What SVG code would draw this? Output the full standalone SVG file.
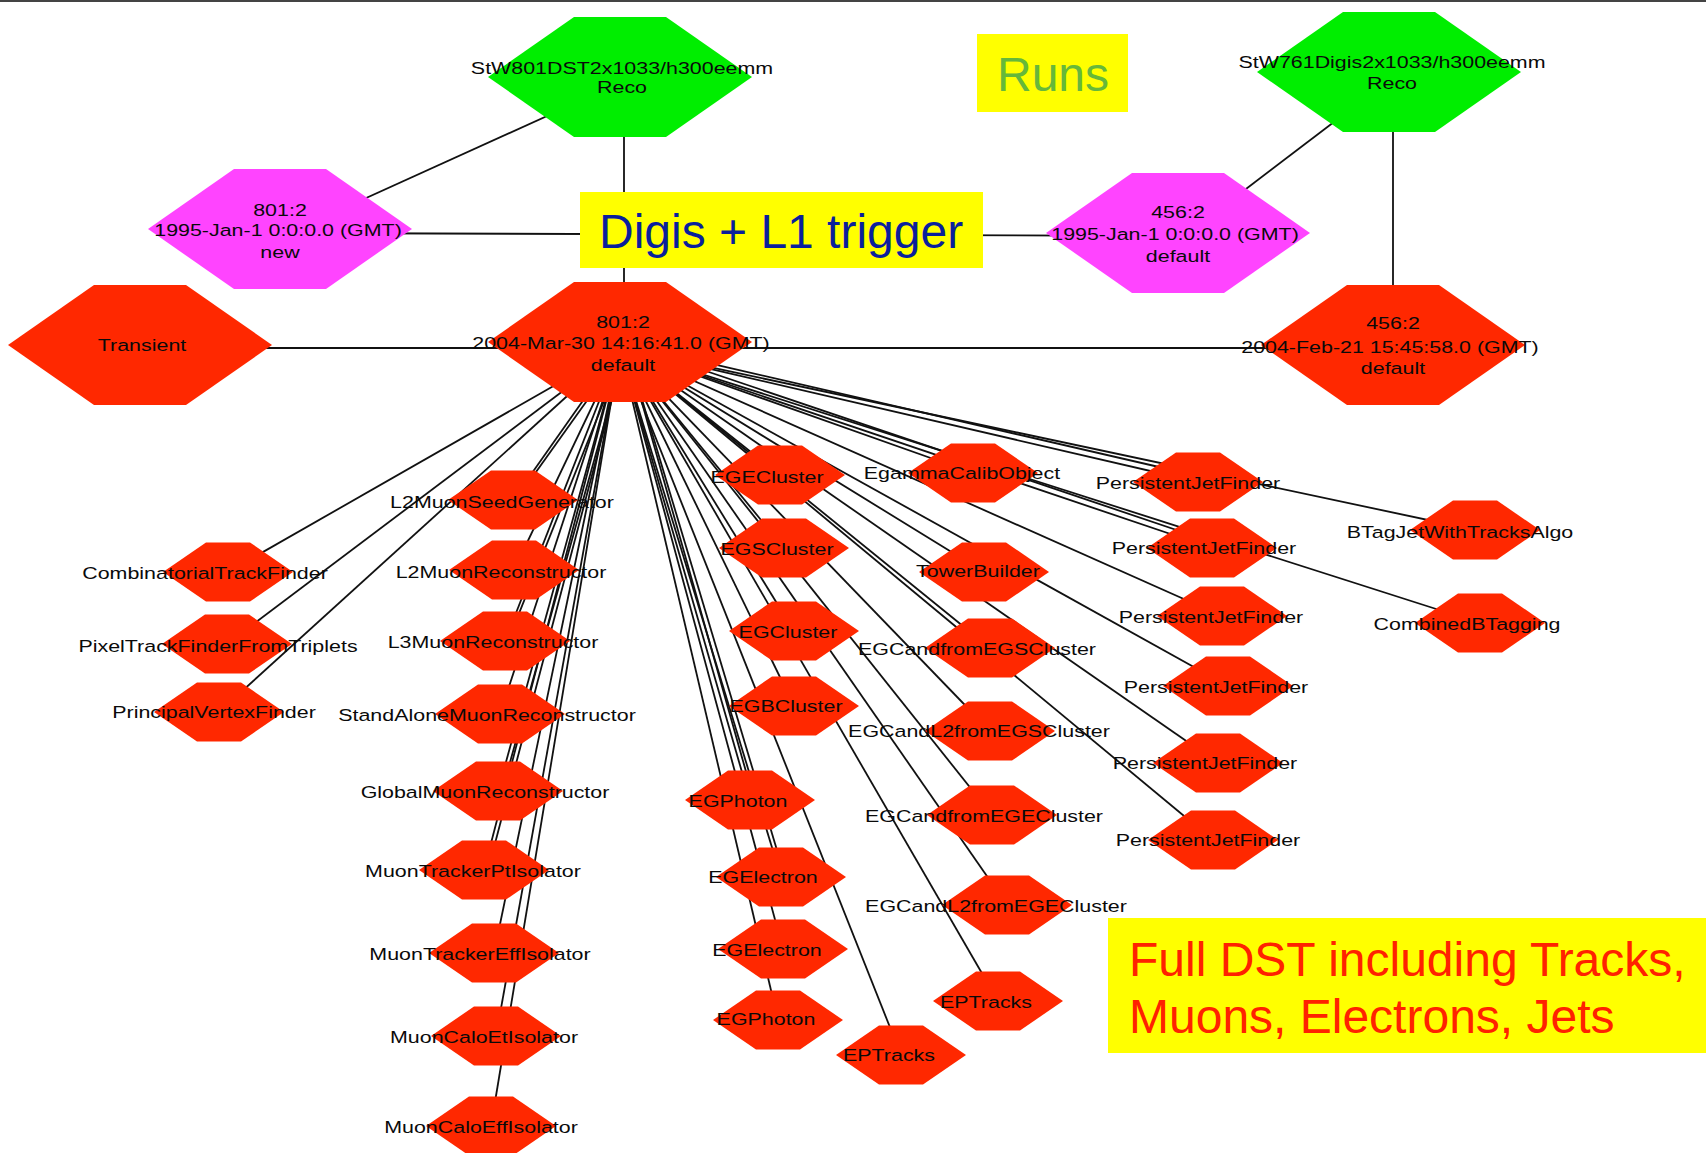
<svg xmlns="http://www.w3.org/2000/svg" xmlns:xlink="http://www.w3.org/1999/xlink" width="1706" height="1153" viewBox="0 0 1706 1153">
  <style>
    .red { fill: #ff2800; }
    .green { fill: #00ee00; }
    .magenta { fill: #ff44ff; }
    .note { fill: #ffff00; }
    .edge { stroke: #111; stroke-width: 1.8; fill: none; }
    .lbl { font-family: "Liberation Sans", Arial, sans-serif; font-size: 17px; fill: #0a0a0a; text-anchor: middle; }
    .big { font-family: "Liberation Sans", Arial, sans-serif; font-size: 48px; }
  </style>
  <defs>
    <path id="hexL" d="M-132,0 L-46,-60 L46,-60 L132,0 L46,60 L-46,60 Z"/>
    <path id="hexS" d="M-65,0 L-22,-29.5 L22,-29.5 L65,0 L22,29.5 L-22,29.5 Z"/>
  </defs>
  <rect width="1706" height="1153" fill="#ffffff"/>
  <line x1="0" y1="1" x2="1706" y2="1" stroke="#444" stroke-width="2"/>

  <!-- connectors -->
  <g id="edges" class="edge">
    <line x1="600" y1="92" x2="300" y2="228"/>
    <line x1="624" y1="77" x2="624" y2="342"/>
    <line x1="280" y1="233" x2="1178" y2="236"/>
    <line x1="1380" y1="87" x2="1200" y2="224"/>
    <line x1="1393" y1="72" x2="1393" y2="345"/>
    <line x1="140" y1="348" x2="1393" y2="348"/>
    <!-- hub fan -->
    <line x1="620" y1="348" x2="228" y2="572"/>
    <line x1="620" y1="348" x2="227" y2="644"/>
    <line x1="620" y1="348" x2="219" y2="712"/>
    <line x1="620" y1="348" x2="513" y2="500"/>
    <line x1="626" y1="346" x2="516" y2="500"/>
    <line x1="620" y1="348" x2="514" y2="570"/>
    <line x1="620" y1="348" x2="505" y2="641"/>
    <line x1="626" y1="346" x2="508" y2="641"/>
    <line x1="620" y1="348" x2="500" y2="714"/>
    <line x1="620" y1="348" x2="498" y2="791"/>
    <line x1="626" y1="346" x2="502" y2="791"/>
    <line x1="620" y1="348" x2="484" y2="870"/>
    <line x1="626" y1="346" x2="488" y2="870"/>
    <line x1="620" y1="348" x2="494" y2="953"/>
    <line x1="620" y1="348" x2="496" y2="1036"/>
    <line x1="620" y1="348" x2="491" y2="1126"/>
    <line x1="620" y1="348" x2="780" y2="475"/>
    <line x1="620" y1="348" x2="784" y2="548"/>
    <line x1="620" y1="348" x2="794" y2="631"/>
    <line x1="620" y1="348" x2="794" y2="706"/>
    <line x1="620" y1="348" x2="750" y2="800"/>
    <line x1="626" y1="346" x2="754" y2="800"/>
    <line x1="620" y1="348" x2="781" y2="877"/>
    <line x1="626" y1="346" x2="785" y2="877"/>
    <line x1="620" y1="348" x2="783" y2="949"/>
    <line x1="620" y1="348" x2="778" y2="1020"/>
    <line x1="620" y1="348" x2="901" y2="1055"/>
    <line x1="620" y1="348" x2="998" y2="1001"/>
    <line x1="620" y1="348" x2="973" y2="473"/>
    <line x1="620" y1="348" x2="984" y2="572"/>
    <line x1="620" y1="348" x2="990" y2="648"/>
    <line x1="620" y1="348" x2="990" y2="731"/>
    <line x1="620" y1="348" x2="992" y2="815"/>
    <line x1="620" y1="348" x2="1007" y2="905"/>
    <line x1="620" y1="348" x2="1198" y2="482"/>
    <line x1="626" y1="344" x2="1198" y2="476"/>
    <line x1="620" y1="348" x2="1212" y2="548"/>
    <line x1="626" y1="344" x2="1212" y2="542"/>
    <line x1="620" y1="348" x2="1222" y2="616"/>
    <line x1="620" y1="348" x2="1228" y2="686"/>
    <line x1="620" y1="348" x2="1218" y2="763"/>
    <line x1="620" y1="348" x2="1213" y2="840"/>
    <line x1="620" y1="348" x2="1475" y2="530"/>
    <line x1="620" y1="348" x2="1480" y2="623"/>
  </g>

  <!-- run / dataset nodes -->
  <g id="n-stw801">
    <use xlink:href="#hexL" class="green" transform="translate(620 77)"/>
    <text class="lbl" transform="translate(622 74) scale(1.26 1)">StW801DST2x1033/h300eemm</text>
    <text class="lbl" transform="translate(622 93) scale(1.26 1)">Reco</text>
  </g>
  <g id="n-stw761">
    <use xlink:href="#hexL" class="green" transform="translate(1389 72)"/>
    <text class="lbl" transform="translate(1392 68) scale(1.26 1)">StW761Digis2x1033/h300eemm</text>
    <text class="lbl" transform="translate(1392 89) scale(1.26 1)">Reco</text>
  </g>
  <g id="n-run801-new">
    <use xlink:href="#hexL" class="magenta" transform="translate(280 229)"/>
    <text class="lbl" transform="translate(280 216) scale(1.26 1)">801:2</text>
    <text class="lbl" transform="translate(278 236) scale(1.26 1)">1995-Jan-1 0:0:0.0 (GMT)</text>
    <text class="lbl" transform="translate(280 258) scale(1.26 1)">new</text>
  </g>
  <g id="n-run456-default">
    <use xlink:href="#hexL" class="magenta" transform="translate(1178 233)"/>
    <text class="lbl" transform="translate(1178 218) scale(1.26 1)">456:2</text>
    <text class="lbl" transform="translate(1175 240) scale(1.26 1)">1995-Jan-1 0:0:0.0 (GMT)</text>
    <text class="lbl" transform="translate(1178 262) scale(1.26 1)">default</text>
  </g>
  <g id="n-transient">
    <use xlink:href="#hexL" class="red" transform="translate(140 345)"/>
    <text class="lbl" transform="translate(142 351) scale(1.26 1)">Transient</text>
  </g>
  <g id="n-hub">
    <use xlink:href="#hexL" class="red" transform="translate(620 342)"/>
    <text class="lbl" transform="translate(623 328) scale(1.26 1)">801:2</text>
    <text class="lbl" transform="translate(621 349) scale(1.26 1)">2004-Mar-30 14:16:41.0 (GMT)</text>
    <text class="lbl" transform="translate(623 371) scale(1.26 1)">default</text>
  </g>
  <g id="n-run456-reco">
    <use xlink:href="#hexL" class="red" transform="translate(1393 345)"/>
    <text class="lbl" transform="translate(1393 329) scale(1.26 1)">456:2</text>
    <text class="lbl" transform="translate(1390 353) scale(1.26 1)">2004-Feb-21 15:45:58.0 (GMT)</text>
    <text class="lbl" transform="translate(1393 374) scale(1.26 1)">default</text>
  </g>

  <!-- tracking -->
  <g id="n-ctf"><use xlink:href="#hexS" class="red" transform="translate(228 572)"/><text class="lbl" transform="translate(205 579) scale(1.26 1)">CombinatorialTrackFinder</text></g>
  <g id="n-ptf"><use xlink:href="#hexS" class="red" transform="translate(227 644)"/><text class="lbl" transform="translate(218 652) scale(1.26 1)">PixelTrackFinderFromTriplets</text></g>
  <g id="n-pvf"><use xlink:href="#hexS" class="red" transform="translate(219 712)"/><text class="lbl" transform="translate(214 718) scale(1.26 1)">PrincipalVertexFinder</text></g>

  <!-- muons -->
  <g id="n-l2seed"><use xlink:href="#hexS" class="red" transform="translate(513 500)"/><text class="lbl" transform="translate(502 508) scale(1.26 1)">L2MuonSeedGenerator</text></g>
  <g id="n-l2reco"><use xlink:href="#hexS" class="red" transform="translate(514 570)"/><text class="lbl" transform="translate(501 578) scale(1.26 1)">L2MuonReconstructor</text></g>
  <g id="n-l3reco"><use xlink:href="#hexS" class="red" transform="translate(505 641)"/><text class="lbl" transform="translate(493 648) scale(1.26 1)">L3MuonReconstructor</text></g>
  <g id="n-samu"><use xlink:href="#hexS" class="red" transform="translate(500 714)"/><text class="lbl" transform="translate(487 721) scale(1.26 1)">StandAloneMuonReconstructor</text></g>
  <g id="n-glmu"><use xlink:href="#hexS" class="red" transform="translate(498 791)"/><text class="lbl" transform="translate(485 798) scale(1.26 1)">GlobalMuonReconstructor</text></g>
  <g id="n-mtpt"><use xlink:href="#hexS" class="red" transform="translate(484 870)"/><text class="lbl" transform="translate(473 877) scale(1.26 1)">MuonTrackerPtIsolator</text></g>
  <g id="n-mteff"><use xlink:href="#hexS" class="red" transform="translate(494 953)"/><text class="lbl" transform="translate(480 960) scale(1.26 1)">MuonTrackerEffIsolator</text></g>
  <g id="n-mcet"><use xlink:href="#hexS" class="red" transform="translate(496 1036)"/><text class="lbl" transform="translate(484 1043) scale(1.26 1)">MuonCaloEtIsolator</text></g>
  <g id="n-mceff"><use xlink:href="#hexS" class="red" transform="translate(491 1126)"/><text class="lbl" transform="translate(481 1133) scale(1.26 1)">MuonCaloEffIsolator</text></g>

  <!-- e/gamma clusters and candidates -->
  <g id="n-egecl"><use xlink:href="#hexS" class="red" transform="translate(780 475)"/><text class="lbl" transform="translate(767 483) scale(1.26 1)">EGECluster</text></g>
  <g id="n-egscl"><use xlink:href="#hexS" class="red" transform="translate(784 548)"/><text class="lbl" transform="translate(777 555) scale(1.26 1)">EGSCluster</text></g>
  <g id="n-egcl"><use xlink:href="#hexS" class="red" transform="translate(794 631)"/><text class="lbl" transform="translate(788 638) scale(1.26 1)">EGCluster</text></g>
  <g id="n-egbcl"><use xlink:href="#hexS" class="red" transform="translate(794 706)"/><text class="lbl" transform="translate(786 712) scale(1.26 1)">EGBCluster</text></g>
  <g id="n-egph1"><use xlink:href="#hexS" class="red" transform="translate(750 800)"/><text class="lbl" transform="translate(738 807) scale(1.26 1)">EGPhoton</text></g>
  <g id="n-egel1"><use xlink:href="#hexS" class="red" transform="translate(781 877)"/><text class="lbl" transform="translate(763 883) scale(1.26 1)">EGElectron</text></g>
  <g id="n-egel2"><use xlink:href="#hexS" class="red" transform="translate(783 949)"/><text class="lbl" transform="translate(767 956) scale(1.26 1)">EGElectron</text></g>
  <g id="n-egph2"><use xlink:href="#hexS" class="red" transform="translate(778 1020)"/><text class="lbl" transform="translate(766 1025) scale(1.26 1)">EGPhoton</text></g>
  <g id="n-ept1"><use xlink:href="#hexS" class="red" transform="translate(901 1055)"/><text class="lbl" transform="translate(889 1061) scale(1.26 1)">EPTracks</text></g>
  <g id="n-ept2"><use xlink:href="#hexS" class="red" transform="translate(998 1001)"/><text class="lbl" transform="translate(986 1008) scale(1.26 1)">EPTracks</text></g>
  <g id="n-ecalib"><use xlink:href="#hexS" class="red" transform="translate(973 473)"/><text class="lbl" transform="translate(962 479) scale(1.26 1)">EgammaCalibObject</text></g>
  <g id="n-tower"><use xlink:href="#hexS" class="red" transform="translate(984 572)"/><text class="lbl" transform="translate(978 577) scale(1.26 1)">TowerBuilder</text></g>
  <g id="n-egcfs"><use xlink:href="#hexS" class="red" transform="translate(990 648)"/><text class="lbl" transform="translate(977 655) scale(1.26 1)">EGCandfromEGSCluster</text></g>
  <g id="n-egcl2s"><use xlink:href="#hexS" class="red" transform="translate(990 731)"/><text class="lbl" transform="translate(979 737) scale(1.26 1)">EGCandL2fromEGSCluster</text></g>
  <g id="n-egcfe"><use xlink:href="#hexS" class="red" transform="translate(992 815)"/><text class="lbl" transform="translate(984 822) scale(1.26 1)">EGCandfromEGECluster</text></g>
  <g id="n-egcl2e"><use xlink:href="#hexS" class="red" transform="translate(1007 905)"/><text class="lbl" transform="translate(996 912) scale(1.26 1)">EGCandL2fromEGECluster</text></g>

  <!-- jets and b-tagging -->
  <g id="n-pjf1"><use xlink:href="#hexS" class="red" transform="translate(1198 482)"/><text class="lbl" transform="translate(1188 489) scale(1.26 1)">PersistentJetFinder</text></g>
  <g id="n-pjf2"><use xlink:href="#hexS" class="red" transform="translate(1212 548)"/><text class="lbl" transform="translate(1204 554) scale(1.26 1)">PersistentJetFinder</text></g>
  <g id="n-pjf3"><use xlink:href="#hexS" class="red" transform="translate(1222 616)"/><text class="lbl" transform="translate(1211 623) scale(1.26 1)">PersistentJetFinder</text></g>
  <g id="n-pjf4"><use xlink:href="#hexS" class="red" transform="translate(1228 686)"/><text class="lbl" transform="translate(1216 693) scale(1.26 1)">PersistentJetFinder</text></g>
  <g id="n-pjf5"><use xlink:href="#hexS" class="red" transform="translate(1218 763)"/><text class="lbl" transform="translate(1205 769) scale(1.26 1)">PersistentJetFinder</text></g>
  <g id="n-pjf6"><use xlink:href="#hexS" class="red" transform="translate(1213 840)"/><text class="lbl" transform="translate(1208 846) scale(1.26 1)">PersistentJetFinder</text></g>
  <g id="n-btag"><use xlink:href="#hexS" class="red" transform="translate(1475 530)"/><text class="lbl" transform="translate(1460 538) scale(1.26 1)">BTagJetWithTracksAlgo</text></g>
  <g id="n-cbtag"><use xlink:href="#hexS" class="red" transform="translate(1480 623)"/><text class="lbl" transform="translate(1467 630) scale(1.26 1)">CombinedBTagging</text></g>

  <!-- annotations -->
  <g id="note-runs">
    <rect class="note" x="977" y="34" width="151" height="78"/>
    <text class="big" x="1053" y="91" fill="#66b83a" text-anchor="middle" font-size="47">Runs</text>
  </g>
  <g id="note-digis">
    <rect class="note" x="580" y="192" width="403" height="76"/>
    <text class="big" x="599" y="248" fill="#0a1f9c">Digis + L1 trigger</text>
  </g>
  <g id="note-dst">
    <rect class="note" x="1108" y="918" width="598" height="135"/>
    <text class="big" x="1129" y="976" fill="#ff2200">Full DST including Tracks,</text>
    <text class="big" x="1129" y="1033" fill="#ff2200">Muons, Electrons, Jets</text>
  </g>
</svg>
